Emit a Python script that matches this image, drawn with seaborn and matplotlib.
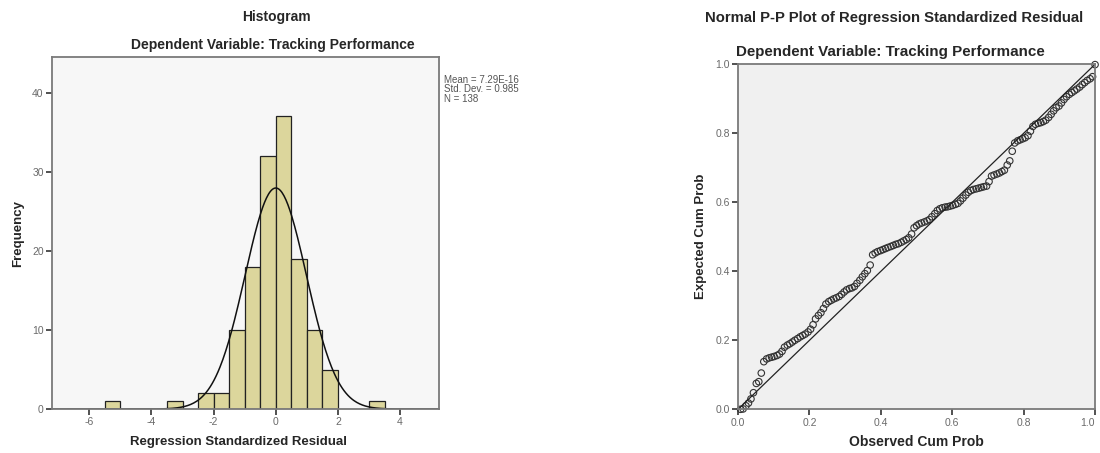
import numpy as np
import pandas as pd
import seaborn as sns
import matplotlib.pyplot as plt

# histogram of regression standardized residuals
BIN_EDGES = [-5.5, -5.0, -4.5, -4.0, -3.5, -3.0, -2.5, -2.0, -1.5, -1.0,
             -0.5, 0.0, 0.5, 1.0, 1.5, 2.0, 2.5, 3.0, 3.5]
BIN_COUNTS = [1, 0, 0, 0, 1, 0, 2, 2, 10, 18, 32, 37, 19, 10, 5, 0, 0, 1]
RESID_MEAN = 7.29e-16
RESID_SD = 0.985
N_OBS = 138

# P-P plot points
OBSERVED = [
    0.007, 0.014, 0.022, 0.029, 0.036, 0.043, 0.051, 0.058, 0.065, 0.072,
    0.080, 0.087, 0.094, 0.101, 0.109, 0.116, 0.123, 0.130, 0.138, 0.145,
    0.152, 0.159, 0.167, 0.174, 0.181, 0.188, 0.196, 0.203, 0.210, 0.217,
    0.225, 0.232, 0.239, 0.246, 0.254, 0.261, 0.268, 0.275, 0.283, 0.290,
    0.297, 0.304, 0.312, 0.319, 0.326, 0.333, 0.341, 0.348, 0.355, 0.362,
    0.370, 0.377, 0.384, 0.391, 0.399, 0.406, 0.413, 0.420, 0.428, 0.435,
    0.442, 0.449, 0.457, 0.464, 0.471, 0.478, 0.486, 0.493, 0.500, 0.507,
    0.514, 0.522, 0.529, 0.536, 0.543, 0.551, 0.558, 0.565, 0.572, 0.580,
    0.587, 0.594, 0.601, 0.609, 0.616, 0.623, 0.630, 0.638, 0.645, 0.652,
    0.659, 0.667, 0.674, 0.681, 0.688, 0.696, 0.703, 0.710, 0.717, 0.725,
    0.732, 0.739, 0.746, 0.754, 0.761, 0.768, 0.775, 0.783, 0.790, 0.797,
    0.804, 0.812, 0.819, 0.826, 0.833, 0.841, 0.848, 0.855, 0.862, 0.870,
    0.877, 0.884, 0.891, 0.899, 0.906, 0.913, 0.920, 0.928, 0.935, 0.942,
    0.949, 0.957, 0.964, 0.971, 0.978, 0.986, 0.993, 1.000,
]
EXPECTED = [
    0.000, 0.001, 0.010, 0.018, 0.030, 0.048, 0.075, 0.080, 0.105, 0.138,
    0.146, 0.149, 0.151, 0.153, 0.156, 0.160, 0.168, 0.180, 0.186, 0.190,
    0.195, 0.200, 0.205, 0.210, 0.214, 0.218, 0.224, 0.232, 0.245, 0.262,
    0.272, 0.280, 0.292, 0.305, 0.312, 0.316, 0.320, 0.323, 0.327, 0.333,
    0.340, 0.346, 0.350, 0.352, 0.356, 0.365, 0.374, 0.384, 0.393, 0.402,
    0.418, 0.448, 0.453, 0.457, 0.460, 0.463, 0.466, 0.469, 0.472, 0.475,
    0.478, 0.480, 0.484, 0.488, 0.492, 0.497, 0.508, 0.526, 0.532, 0.537,
    0.540, 0.543, 0.546, 0.550, 0.558, 0.567, 0.576, 0.581, 0.584, 0.586,
    0.587, 0.589, 0.591, 0.594, 0.597, 0.604, 0.612, 0.621, 0.629, 0.634,
    0.637, 0.639, 0.641, 0.643, 0.645, 0.647, 0.660, 0.676, 0.679, 0.682,
    0.685, 0.689, 0.693, 0.708, 0.720, 0.748, 0.772, 0.778, 0.781, 0.784,
    0.787, 0.793, 0.806, 0.820, 0.826, 0.829, 0.831, 0.834, 0.838, 0.846,
    0.855, 0.865, 0.874, 0.879, 0.888, 0.898, 0.906, 0.913, 0.918, 0.923,
    0.928, 0.934, 0.941, 0.947, 0.953, 0.958, 0.964, 0.999,
]

sns.set_style("white")
plt.rcParams['font.family'] = ['Liberation Sans', 'DejaVu Sans']
plt.rcParams['axes.unicode_minus'] = False

SPINE = '#7a7a7a'
TICKLBL = '#6a6a6a'

def style_axes(ax, face):
    ax.set_facecolor(face)
    for s in ax.spines.values():
        s.set_color(SPINE)
        s.set_linewidth(1.3)
    ax.tick_params(axis='both', direction='out', length=4, width=1.2, bottom=True, left=True,
                   color='#333333', labelsize=7.5, labelcolor=TICKLBL, pad=2)

fig = plt.figure(figsize=(11, 4.53), dpi=100)

# ---- histogram
ax1 = fig.add_axes([0.0473, 0.097, 0.352, 0.777])
style_axes(ax1, '#f7f7f7')
centers = [(a + b) / 2 for a, b in zip(BIN_EDGES[:-1], BIN_EDGES[1:])]
hist_df = pd.DataFrame({'resid': centers, 'count': BIN_COUNTS})
sns.histplot(data=hist_df, x='resid', weights='count', bins=BIN_EDGES,
             color='#dcd69c', alpha=1, edgecolor='#222222', linewidth=0.9, ax=ax1)
bw = BIN_EDGES[1] - BIN_EDGES[0]
xs = np.linspace(-7.2, 5.26, 400)
ys = N_OBS * bw * np.exp(-0.5 * ((xs - RESID_MEAN) / RESID_SD) ** 2) / (RESID_SD * np.sqrt(2 * np.pi))
sns.lineplot(x=xs, y=ys, color='#111111', linewidth=1.1, ax=ax1)
ax1.set_xlim(-7.2, 5.26)
ax1.set_ylim(0, 44.5)
ax1.set_xticks([-6, -4, -2, 0, 2, 4])
ax1.set_yticks([0, 10, 20, 30, 40])
ax1.set_xlabel('Regression Standardized Residual', fontsize=9.5, fontweight='bold')
ax1.xaxis.set_label_coords(0.482, -0.077)
ax1.set_ylabel('Frequency', fontsize=9.5, fontweight='bold', labelpad=6)
fig.text(0.251, 0.962, 'Histogram', ha='center', va='center', fontsize=10, fontweight='bold')
fig.text(0.248, 0.900, 'Dependent Variable: Tracking Performance', ha='center', va='center',
         fontsize=10, fontweight='bold')
fig.text(0.4035, 0.835, 'Mean = 7.29E-16\nStd. Dev. = 0.985\nN = 138', ha='left', va='top',
         fontsize=7, color='#555555', linespacing=0.95)

# ---- P-P plot
ax2 = fig.add_axes([0.671, 0.0965, 0.3245, 0.7616])
style_axes(ax2, '#f0f0f0')
ax2.plot([0, 1], [0, 1], color='#222222', linewidth=0.9)
pp_df = pd.DataFrame({'obs': OBSERVED, 'exp': EXPECTED})
sns.scatterplot(data=pp_df, x='obs', y='exp', marker='o', s=22, facecolor='none',
                edgecolor='#333333', linewidth=0.8, ax=ax2, clip_on=False)
ax2.set_xlim(0, 1)
ax2.set_ylim(0, 1)
ticks = [0.0, 0.2, 0.4, 0.6, 0.8, 1.0]
ax2.set_xticks(ticks)
ax2.set_yticks(ticks)
ax2.set_xticklabels([f'{t:.1f}' for t in ticks])
ax2.set_yticklabels([f'{t:.1f}' for t in ticks])
# keep the last tick label inside the canvas
ax2.get_xticklabels()[-1].set_horizontalalignment('right')
ax2.set_xlabel('Observed Cum Prob', fontsize=10, fontweight='bold', labelpad=5)
ax2.set_ylabel('Expected Cum Prob', fontsize=9.5, fontweight='bold', labelpad=6)
fig.text(0.813, 0.960, 'Normal P-P Plot of Regression Standardized Residual', ha='center',
         va='center', fontsize=10.7, fontweight='bold')
fig.text(0.809, 0.885, 'Dependent Variable: Tracking Performance', ha='center', va='center',
         fontsize=10.9, fontweight='bold')

fig.savefig('out.png', dpi=100, facecolor='white')
